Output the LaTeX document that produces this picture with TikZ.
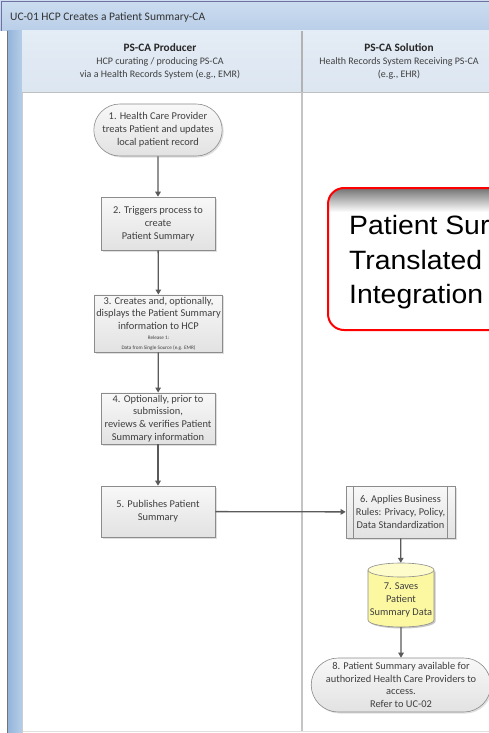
\documentclass[tikz,border=0pt]{standalone}
\usepackage{fontspec}
\setmainfont{Carlito}
\newfontfamily\arialfont[FakeStretch=1.07]{Liberation Sans}
\usetikzlibrary{shapes.geometric,shapes.misc,arrows.meta,shadows}
\definecolor{boxline}{HTML}{8C8C8C}
\definecolor{boxtop}{HTML}{F8F8F8}
\definecolor{boxbot}{HTML}{E2E2E2}
\definecolor{textc}{HTML}{3F3F3F}
\definecolor{arrowc}{HTML}{5A5A5A}
\definecolor{titletop}{HTML}{CCDDF0}
\definecolor{titlebot}{HTML}{B9CEE8}
\definecolor{stripl}{HTML}{93B3D9}
\definecolor{stripr}{HTML}{B5CDE8}
\definecolor{lanehead}{HTML}{DCE6F1}
\definecolor{laneheadtop}{HTML}{E4ECF5}
\definecolor{divider}{HTML}{C4C4C4}
\definecolor{cylbody}{HTML}{FCF8A2}
\definecolor{cylend}{HTML}{FFFCCC}
\definecolor{calloutred}{HTML}{FF0000}
\begin{document}
\begin{tikzpicture}[x=1pt,y=-1pt,
  flowbox/.style={draw=boxline, line width=0.6pt, top color=boxtop, bottom color=boxbot,
    text=textc, font=\fontsize{10.4}{12.8}\selectfont, align=center, inner sep=2pt,
    drop shadow={shadow xshift=1.5pt, shadow yshift=-1.5pt, opacity=0.25}},
  rectbox/.style={flowbox, rectangle},
  termbox/.style={flowbox, rounded rectangle},
  flowarrow/.style={draw=arrowc, line width=1.3pt, -{Triangle[length=5pt,width=5.5pt]}},
  headtitle/.style={font=\fontsize{11.3}{13}\bfseries\selectfont, text=black!85},
  headsub/.style={font=\fontsize{10}{13}\selectfont, text=textc, align=center}
]
\useasboundingbox (0,0) rectangle (489,733);
\clip (0,0) rectangle (489,733);

% title bar
\fill[top color=titletop, bottom color=titlebot] (0,0) rectangle (489,31);
\draw[boxline!80!blue, line width=0.6pt] (1,31) -- (1,1) -- (489,1);
\node[anchor=west, font=\fontsize{11.5}{13}\selectfont, text=black!80, inner sep=0] (title) at (10,17) {UC-01 HCP Creates a Patient Summary-CA};

% left strip
\fill[left color=stripl, right color=stripr] (7,31) rectangle (22,733);
\draw[black!55, line width=0.8pt] (7,31) -- (7,733);
\draw[black!20, line width=0.8pt] (22.5,92) -- (22.5,733);

% lane headers
\fill[top color=laneheadtop, bottom color=lanehead] (22,31) rectangle (489,92);
\draw[black!25, line width=0.8pt] (22,92) -- (489,92);
\fill[white] (23,93) rectangle (489,731);
\draw[black!30, line width=1.2pt] (302,31) -- (302,92);
\draw[divider, line width=1.2pt] (302,92) -- (302,731);
\draw[black!12, line width=0.8pt] (23,731.5) -- (489,731.5);

\node[headtitle] (h1) at (160,48) {PS-CA Producer};
\node[headsub] (h1s) at (160,68) {HCP curating / producing PS-CA\\via a Health Records System (e.g., EMR)};
\node[headtitle] (h2) at (399,48) {PS-CA Solution};
\node[headsub] (h2s) at (399,68) {Health Records System Receiving PS-CA\\(e.g., EHR)};

% flow nodes
\node[termbox, minimum width=116pt, minimum height=52pt] (n1) at (158,130)
  {1. Health Care Provider\\treats Patient and updates\\local patient record};
\node[rectbox, minimum width=114pt, minimum height=53pt] (n2) at (158,223.5)
  {2. Triggers process to\\create\\Patient Summary};
\node[rectbox, minimum width=127pt, minimum height=57pt] (n3) at (158.5,323.5)
  {3. Creates and, optionally,\\displays the Patient Summary\\information to HCP\\[-3pt]
   {\fontsize{5.2}{7}\selectfont Release 1:}\\[-3pt]{\fontsize{5.2}{7}\selectfont Data from Single Source (e.g. EMR)}};
\node[rectbox, minimum width=114pt, minimum height=51pt] (n4) at (158,418.5)
  {4. Optionally, prior to\\submission,\\reviews \& verifies Patient\\Summary information};
\node[rectbox, minimum width=114pt, minimum height=51pt] (n5) at (158,511.5)
  {5. Publishes Patient\\Summary};
\node[rectbox, minimum width=109pt, minimum height=52pt] (n6) at (400.5,512)
  {6. Applies Business\\Rules: Privacy, Policy,\\Data Standardization};
\draw[boxline, line width=0.6pt] ([xshift=8pt]n6.north west) -- ([xshift=8pt]n6.south west);
\draw[boxline, line width=0.6pt] ([xshift=-8pt]n6.north east) -- ([xshift=-8pt]n6.south east);

% cylinder (drawn directly), node 7 carries its text
\fill[black, opacity=0.22] (369.5,571.5) -- (369.5,621.5) arc[start angle=180, end angle=0, x radius=33, y radius=7] -- (435.5,571.5) -- cycle;
\path[fill=cylbody, draw=boxline, line width=0.6pt] (368,570) -- (368,620)
  arc[start angle=180, end angle=0, x radius=33, y radius=7] -- (434,570);
\path[fill=cylend, draw=boxline, line width=0.6pt] (401,570) ellipse[x radius=33, y radius=7];
\node[text=textc, font=\fontsize{10.4}{12.8}\selectfont, align=center, inner sep=0,
  minimum width=66pt, minimum height=64pt] (n7) at (401,595) {};
\node[text=textc, font=\fontsize{10.4}{12.8}\selectfont, align=center, inner sep=0] (n7text)
  at (401,600) {7. Saves\\Patient\\Summary Data};
\node[termbox, minimum width=154pt, minimum height=54pt] (n8) at (401,685)
  {8. Patient Summary available for\\authorized Health Care Providers to\\access.\\Refer to UC-02};

% connectors
\draw[flowarrow] (n1) -- (n2);
\draw[flowarrow] (n2) -- (n3);
\draw[flowarrow] (n3) -- (n4);
\draw[flowarrow] (n4) -- (n5);
\draw[flowarrow] (n5) -- (n6);
\draw[flowarrow] (n6) -- (n7);
\draw[flowarrow] (n7) -- (n8);

% callout
\begin{scope}
\clip[rounded corners=16pt] (328,188) rectangle (660,330);
\fill[white] (328,188) rectangle (660,330);
\shade[top color=black!55, bottom color=white] (328,188) rectangle (660,212);
\end{scope}
\draw[calloutred, line width=2pt, rounded corners=16pt] (328,188) rectangle (660,330);
\node[anchor=north west, inner sep=0, align=left, text=black,
  font=\arialfont\fontsize{26.5}{34.5}\selectfont] (callout) at (349,215.5)
  {Patient Sur\\Translated\\Integration};
\end{tikzpicture}
\end{document}
